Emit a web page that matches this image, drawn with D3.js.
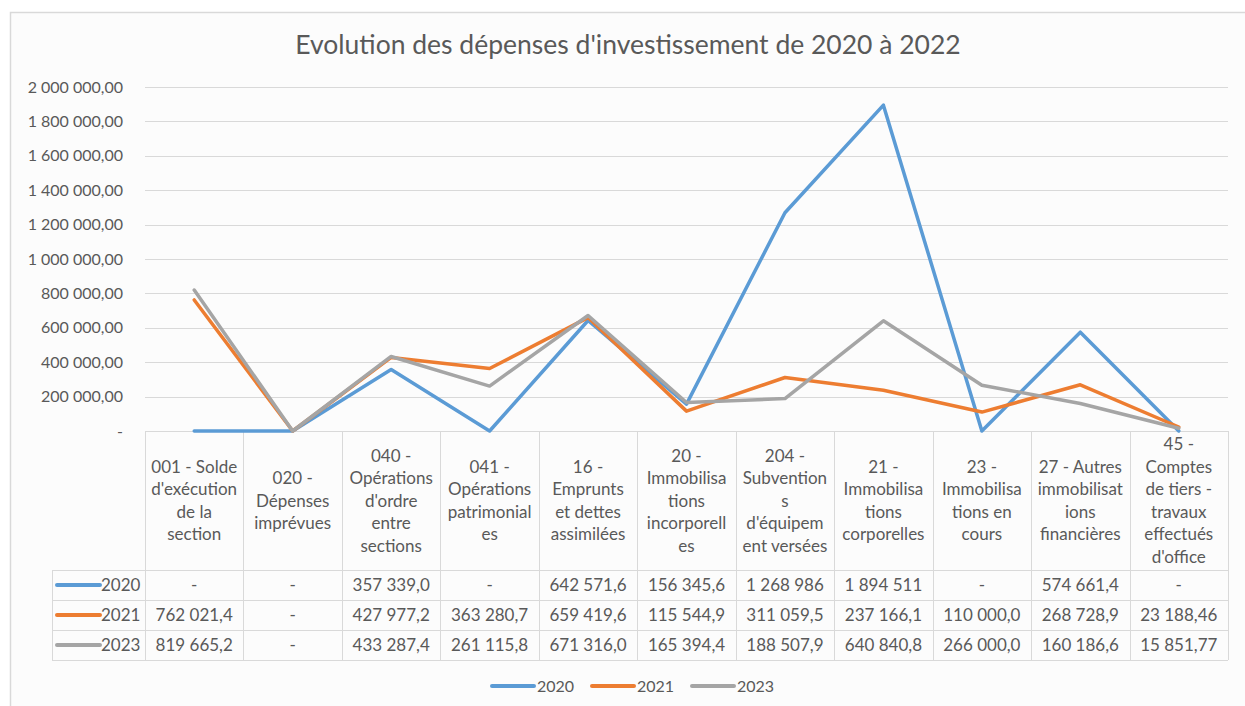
<!DOCTYPE html>
<html>
<head>
<meta charset="utf-8">
<script src="https://cdn.jsdelivr.net/npm/d3@7"></script>
<style>
  html, body { margin: 0; padding: 0; background: #fff; }
  svg { display: block; font-family: Lato, "Open Sans", sans-serif; }
</style>
</head>
<body>
<div id="chart"></div>
<script>
// categories, with line breaks as they wrap in the table header
var categories = [
  ["001 - Solde", "d'exécution", "de la", "section"],
  ["020 -", "Dépenses", "imprévues"],
  ["040 -", "Opérations", "d'ordre", "entre", "sections"],
  ["041 -", "Opérations", "patrimonial", "es"],
  ["16 -", "Emprunts", "et dettes", "assimilées"],
  ["20 -", "Immobilisa", "tions", "incorporell", "es"],
  ["204 -", "Subvention", "s", "d'équipem", "ent versées"],
  ["21 -", "Immobilisa", "tions", "corporelles"],
  ["23 -", "Immobilisa", "tions en", "cours"],
  ["27 - Autres", "immobilisat", "ions", "financières"],
  ["45 -", "Comptes", "de tiers -", "travaux", "effectués", "d'office"]
];

var seriesNames = ["2020", "2021", "2023"];
var seriesColors = ["#5b9bd5", "#ed7d31", "#a5a5a5"];

var values2020 = [0, 0, 357339.0, 0, 642571.6, 156345.6, 1268986, 1894511, 0, 574661.4, 0];
var values2021 = [762021.4, 0, 427977.2, 363280.7, 659419.6, 115544.9, 311059.5, 237166.1, 110000.0, 268728.9, 23188.46];
var values2023 = [819665.2, 0, 433287.4, 261115.8, 671316.0, 165394.4, 188507.9, 640840.8, 266000.0, 160186.6, 15851.77];

var yTicks = [0, 200000, 400000, 600000, 800000, 1000000, 1200000, 1400000, 1600000, 1800000, 2000000];

var series = [values2020, values2021, values2023];

var width = 1245, height = 706;
var plotLeft = 145, plotRight = 1228, plotTop = 87, plotBottom = 431;
var headerBottom = 570, rowH = 30, tableLeft = 52;
var textColor = "#595959", gridColor = "#d9d9d9";
var tableFont = "17px";

var svg = d3.select("#chart").append("svg")
    .attr("width", width)
    .attr("height", height);

// chart frame
svg.append("rect")
    .attr("x", 10.5).attr("y", 12.5)
    .attr("width", width + 10).attr("height", height + 10)
    .attr("fill", "#fcfcfc")
    .attr("stroke", gridColor)
    .attr("stroke-width", 1.5);

svg.append("text")
    .attr("x", 628).attr("y", 54)
    .attr("text-anchor", "middle")
    .attr("fill", textColor)
    .style("font-size", "26.5px")
    .text("Evolution des dépenses d'investissement de 2020 à 2022");

var x = d3.scaleBand()
    .domain(d3.range(categories.length))
    .range([plotLeft, plotRight]);

var y = d3.scaleLinear()
    .domain([0, 2000000])
    .range([plotBottom, plotTop]);

function fmtAxis(v) {
  if (v === 0) return "-";
  return d3.format(",.2f")(v).replace(/,/g, " ").replace(".", ",");
}

function fmtCell(v) {
  if (v === 0) return "-";
  var dec = v >= 1e6 ? 0 : (v >= 1e5 ? 1 : 2);
  return d3.format(",." + dec + "f")(v).replace(/,/g, " ").replace(".", ",");
}

// gridlines
svg.append("g")
  .selectAll("line")
  .data(yTicks.filter(function(d) { return d > 0; }))
  .enter().append("line")
    .attr("x1", plotLeft).attr("x2", plotRight)
    .attr("y1", function(d) { return Math.round(y(d)) + 0.5; })
    .attr("y2", function(d) { return Math.round(y(d)) + 0.5; })
    .attr("stroke", gridColor);

// y axis labels
svg.append("g")
  .selectAll("text")
  .data(yTicks)
  .enter().append("text")
    .attr("x", 123)
    .attr("y", function(d) { return y(d) + 5.5; })
    .attr("text-anchor", "end")
    .attr("fill", textColor)
    .style("font-size", "16px")
    .text(fmtAxis);

// data table
var table = svg.append("g")
    .attr("stroke", gridColor)
    .attr("fill", "none");

table.append("line")
    .attr("x1", plotLeft).attr("x2", plotRight)
    .attr("y1", plotBottom + 0.5).attr("y2", plotBottom + 0.5);

[0, 1, 2, 3].forEach(function(i) {
  var yy = headerBottom + i * rowH + 0.5;
  table.append("line")
      .attr("x1", tableLeft).attr("x2", plotRight)
      .attr("y1", yy).attr("y2", yy);
});

table.append("line")
    .attr("x1", tableLeft + 0.5).attr("x2", tableLeft + 0.5)
    .attr("y1", headerBottom).attr("y2", headerBottom + 3 * rowH);

var bounds = x.domain().map(function(d) { return x(d); }).concat([plotRight]);
table.selectAll(".vline")
  .data(bounds)
  .enter().append("line")
    .attr("x1", function(d) { return Math.round(d) + 0.5; })
    .attr("x2", function(d) { return Math.round(d) + 0.5; })
    .attr("y1", plotBottom)
    .attr("y2", headerBottom + 3 * rowH);

// header labels
var headerMid = (plotBottom + headerBottom) / 2;
var lineH = 22.5;
var header = svg.append("g")
  .selectAll("text")
  .data(categories)
  .enter().append("text")
    .attr("text-anchor", "middle")
    .attr("fill", textColor)
    .style("font-size", tableFont);

header.selectAll("tspan")
  .data(function(d, i) { return d.map(function(s, j) { return {s: s, j: j, n: d.length, i: i}; }); })
  .enter().append("tspan")
    .attr("x", function(d) { return x(d.i) + x.bandwidth() / 2; })
    .attr("y", function(d) { return headerMid + (d.j - (d.n - 1) / 2) * lineH + 6; })
    .text(function(d) { return d.s; });

// table rows
series.forEach(function(vals, si) {
  var cy = headerBottom + si * rowH + rowH / 2;
  svg.append("line")
      .attr("x1", 57).attr("x2", 100)
      .attr("y1", cy).attr("y2", cy)
      .attr("stroke", seriesColors[si])
      .attr("stroke-width", 4)
      .attr("stroke-linecap", "round");
  svg.append("text")
      .attr("x", 101).attr("y", cy + 6)
      .attr("fill", textColor)
      .style("font-size", tableFont)
      .text(seriesNames[si]);
  svg.append("g")
    .selectAll("text")
    .data(vals)
    .enter().append("text")
      .attr("x", function(d, i) { return x(i) + x.bandwidth() / 2; })
      .attr("y", cy + 6)
      .attr("text-anchor", "middle")
      .attr("fill", textColor)
      .style("font-size", tableFont)
      .text(fmtCell);
});

// lines
var line = d3.line()
    .x(function(d, i) { return x(i) + x.bandwidth() / 2; })
    .y(function(d) { return y(d); });

svg.append("g")
  .selectAll("path")
  .data(series)
  .enter().append("path")
    .attr("d", line)
    .attr("fill", "none")
    .attr("stroke", function(d, i) { return seriesColors[i]; })
    .attr("stroke-width", 3.5)
    .attr("stroke-linejoin", "round")
    .attr("stroke-linecap", "round");

// legend
var legend = svg.append("g")
  .selectAll("g")
  .data(seriesNames)
  .enter().append("g")
    .attr("transform", function(d, i) { return "translate(" + (492 + i * 100) + ",686)"; });

legend.append("line")
    .attr("x1", 0).attr("x2", 42)
    .attr("stroke", function(d, i) { return seriesColors[i]; })
    .attr("stroke-width", 4)
    .attr("stroke-linecap", "round");

legend.append("text")
    .attr("x", 45).attr("y", 5.5)
    .attr("fill", textColor)
    .style("font-size", "16px")
    .text(function(d) { return d; });
</script>
</body>
</html>
